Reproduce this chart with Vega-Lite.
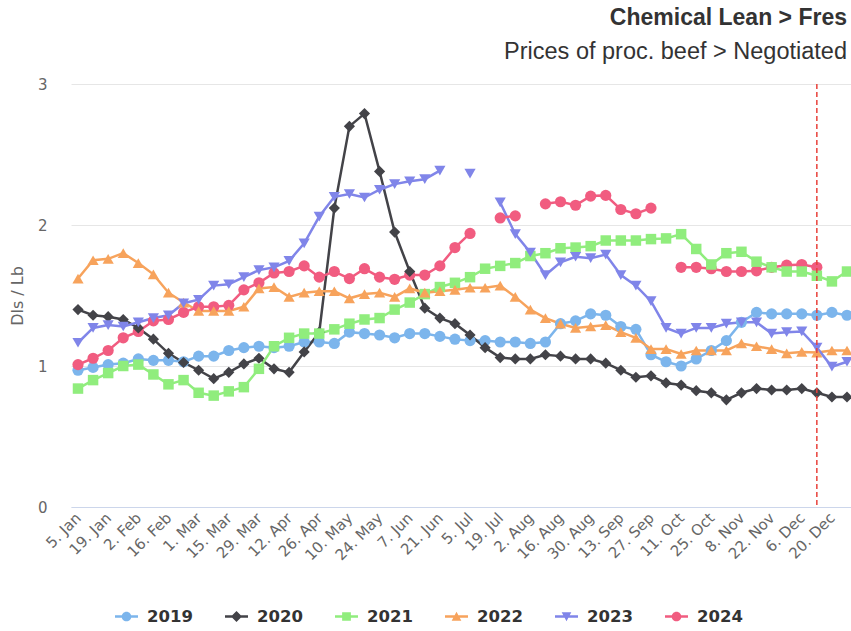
{
  "$schema": "https://vega.github.io/schema/vega-lite/v6.json",
  "width": 780,
  "height": 423,
  "autosize": {"type": "none"},
  "padding": {"left": 71, "top": 84, "right": 0, "bottom": 124},
  "background": "white",
  "config": {"view": {"stroke": null}},
  "title": {
    "text": "Chemical Lean > Fres",
    "subtitle": "Prices of proc. beef > Negotiated",
    "anchor": "end",
    "frame": "group",
    "font": "Liberation Sans",
    "fontSize": 23,
    "fontWeight": "bold",
    "color": "#333333",
    "subtitleFont": "Liberation Sans",
    "subtitleFontSize": 23.5,
    "subtitleColor": "#333333",
    "subtitlePadding": 10,
    "offset": 14,
    "dx": -4
  },
  "data": {
    "values": [
      {"date": "2024-01-05", "2019": 0.97, "2020": 1.40, "2021": 0.84, "2022": 1.62, "2023": 1.165, "2024": 1.01},
      {"date": "2024-01-12", "2019": 0.99, "2020": 1.36, "2021": 0.90, "2022": 1.75, "2023": 1.27, "2024": 1.055},
      {"date": "2024-01-19", "2019": 1.01, "2020": 1.35, "2021": 0.95, "2022": 1.76, "2023": 1.29, "2024": 1.11},
      {"date": "2024-01-26", "2019": 1.02, "2020": 1.33, "2021": 1.00, "2022": 1.80, "2023": 1.28, "2024": 1.20},
      {"date": "2024-02-02", "2019": 1.05, "2020": 1.27, "2021": 1.01, "2022": 1.73, "2023": 1.31, "2024": 1.245},
      {"date": "2024-02-09", "2019": 1.04, "2020": 1.19, "2021": 0.94, "2022": 1.65, "2023": 1.34, "2024": 1.32},
      {"date": "2024-02-16", "2019": 1.04, "2020": 1.09, "2021": 0.87, "2022": 1.52, "2023": 1.36, "2024": 1.33},
      {"date": "2024-02-23", "2019": 1.03, "2020": 1.025, "2021": 0.90, "2022": 1.45, "2023": 1.445, "2024": 1.38},
      {"date": "2024-03-01", "2019": 1.07, "2020": 0.97, "2021": 0.81, "2022": 1.39, "2023": 1.47, "2024": 1.42},
      {"date": "2024-03-08", "2019": 1.07, "2020": 0.91, "2021": 0.79, "2022": 1.39, "2023": 1.57, "2024": 1.42},
      {"date": "2024-03-15", "2019": 1.11, "2020": 0.955, "2021": 0.82, "2022": 1.39, "2023": 1.58, "2024": 1.43},
      {"date": "2024-03-22", "2019": 1.13, "2020": 1.015, "2021": 0.85, "2022": 1.42, "2023": 1.63, "2024": 1.54},
      {"date": "2024-03-29", "2019": 1.14, "2020": 1.055, "2021": 0.98, "2022": 1.55, "2023": 1.68, "2024": 1.59},
      {"date": "2024-04-05", "2019": 1.13, "2020": 0.98, "2021": 1.14, "2022": 1.56, "2023": 1.70, "2024": 1.66},
      {"date": "2024-04-12", "2019": 1.14, "2020": 0.955, "2021": 1.20, "2022": 1.49, "2023": 1.745, "2024": 1.67},
      {"date": "2024-04-19", "2019": 1.17, "2020": 1.10, "2021": 1.23, "2022": 1.52, "2023": 1.87, "2024": 1.71},
      {"date": "2024-04-26", "2019": 1.17, "2020": 1.24, "2021": 1.23, "2022": 1.53, "2023": 2.06, "2024": 1.63},
      {"date": "2024-05-03", "2019": 1.16, "2020": 2.12, "2021": 1.26, "2022": 1.53, "2023": 2.20, "2024": 1.67},
      {"date": "2024-05-10", "2019": 1.24, "2020": 2.70, "2021": 1.30, "2022": 1.48, "2023": 2.22, "2024": 1.62},
      {"date": "2024-05-17", "2019": 1.23, "2020": 2.79, "2021": 1.33, "2022": 1.51, "2023": 2.195, "2024": 1.69},
      {"date": "2024-05-24", "2019": 1.22, "2020": 2.38, "2021": 1.34, "2022": 1.52, "2023": 2.25, "2024": 1.63},
      {"date": "2024-05-31", "2019": 1.20, "2020": 1.95, "2021": 1.40, "2022": 1.49, "2023": 2.29, "2024": 1.615},
      {"date": "2024-06-07", "2019": 1.23, "2020": 1.67, "2021": 1.45, "2022": 1.55, "2023": 2.31, "2024": 1.645},
      {"date": "2024-06-14", "2019": 1.23, "2020": 1.41, "2021": 1.51, "2022": 1.52, "2023": 2.325, "2024": 1.645},
      {"date": "2024-06-21", "2019": 1.21, "2020": 1.34, "2021": 1.56, "2022": 1.53, "2023": 2.385, "2024": 1.71},
      {"date": "2024-06-28", "2019": 1.19, "2020": 1.30, "2021": 1.59, "2022": 1.54, "2023": null, "2024": 1.84},
      {"date": "2024-07-05", "2019": 1.18, "2020": 1.22, "2021": 1.63, "2022": 1.555, "2023": 2.365, "2024": 1.94},
      {"date": "2024-07-12", "2019": 1.18, "2020": 1.13, "2021": 1.69, "2022": 1.555, "2023": null, "2024": null},
      {"date": "2024-07-19", "2019": 1.17, "2020": 1.06, "2021": 1.71, "2022": 1.57, "2023": 2.16, "2024": 2.05},
      {"date": "2024-07-26", "2019": 1.17, "2020": 1.05, "2021": 1.73, "2022": 1.49, "2023": 1.935, "2024": 2.065},
      {"date": "2024-08-02", "2019": 1.16, "2020": 1.05, "2021": 1.78, "2022": 1.40, "2023": 1.805, "2024": null},
      {"date": "2024-08-09", "2019": 1.17, "2020": 1.08, "2021": 1.80, "2022": 1.34, "2023": 1.645, "2024": 2.15},
      {"date": "2024-08-16", "2019": 1.30, "2020": 1.07, "2021": 1.835, "2022": 1.30, "2023": 1.735, "2024": 2.165},
      {"date": "2024-08-23", "2019": 1.32, "2020": 1.05, "2021": 1.84, "2022": 1.27, "2023": 1.775, "2024": 2.14},
      {"date": "2024-08-30", "2019": 1.37, "2020": 1.05, "2021": 1.85, "2022": 1.28, "2023": 1.765, "2024": 2.205},
      {"date": "2024-09-06", "2019": 1.36, "2020": 1.02, "2021": 1.89, "2022": 1.29, "2023": 1.79, "2024": 2.21},
      {"date": "2024-09-13", "2019": 1.28, "2020": 0.97, "2021": 1.89, "2022": 1.24, "2023": 1.645, "2024": 2.11},
      {"date": "2024-09-20", "2019": 1.26, "2020": 0.92, "2021": 1.89, "2022": 1.20, "2023": 1.57, "2024": 2.08},
      {"date": "2024-09-27", "2019": 1.08, "2020": 0.93, "2021": 1.90, "2022": 1.12, "2023": 1.46, "2024": 2.12},
      {"date": "2024-10-04", "2019": 1.03, "2020": 0.88, "2021": 1.905, "2022": 1.12, "2023": 1.27, "2024": null},
      {"date": "2024-10-11", "2019": 1.00, "2020": 0.865, "2021": 1.935, "2022": 1.085, "2023": 1.23, "2024": 1.70},
      {"date": "2024-10-18", "2019": 1.05, "2020": 0.825, "2021": 1.83, "2022": 1.11, "2023": 1.27, "2024": 1.70},
      {"date": "2024-10-25", "2019": 1.11, "2020": 0.81, "2021": 1.72, "2022": 1.11, "2023": 1.27, "2024": 1.69},
      {"date": "2024-11-01", "2019": 1.18, "2020": 0.76, "2021": 1.80, "2022": 1.11, "2023": 1.30, "2024": 1.67},
      {"date": "2024-11-08", "2019": 1.31, "2020": 0.81, "2021": 1.81, "2022": 1.16, "2023": 1.31, "2024": 1.67},
      {"date": "2024-11-15", "2019": 1.38, "2020": 0.84, "2021": 1.74, "2022": 1.14, "2023": 1.31, "2024": 1.675},
      {"date": "2024-11-22", "2019": 1.37, "2020": 0.83, "2021": 1.70, "2022": 1.12, "2023": 1.23, "2024": 1.70},
      {"date": "2024-11-29", "2019": 1.37, "2020": 0.83, "2021": 1.67, "2022": 1.09, "2023": 1.24, "2024": 1.715},
      {"date": "2024-12-06", "2019": 1.37, "2020": 0.84, "2021": 1.67, "2022": 1.10, "2023": 1.245, "2024": 1.72},
      {"date": "2024-12-13", "2019": 1.36, "2020": 0.81, "2021": 1.64, "2022": 1.095, "2023": 1.13, "2024": 1.70},
      {"date": "2024-12-20", "2019": 1.38, "2020": 0.78, "2021": 1.60, "2022": 1.11, "2023": 0.995, "2024": null},
      {"date": "2024-12-27", "2019": 1.36, "2020": 0.78, "2021": 1.67, "2022": 1.11, "2023": 1.03, "2024": null}
    ]
  },
  "encoding": {
    "x": {
      "field": "date",
      "type": "temporal",
      "scale": {
        "type": "utc",
        "domain": [
          {"year": 2024, "month": 1, "date": 1, "hours": 18, "utc": true},
          {"year": 2024, "month": 12, "date": 28, "hours": 20, "minutes": 34, "utc": true}
        ]
      },
      "axis": {
        "title": null,
        "values": [
          {"year": 2024, "month": 1, "date": 5, "utc": true},
          {"year": 2024, "month": 1, "date": 19, "utc": true},
          {"year": 2024, "month": 2, "date": 2, "utc": true},
          {"year": 2024, "month": 2, "date": 16, "utc": true},
          {"year": 2024, "month": 3, "date": 1, "utc": true},
          {"year": 2024, "month": 3, "date": 15, "utc": true},
          {"year": 2024, "month": 3, "date": 29, "utc": true},
          {"year": 2024, "month": 4, "date": 12, "utc": true},
          {"year": 2024, "month": 4, "date": 26, "utc": true},
          {"year": 2024, "month": 5, "date": 10, "utc": true},
          {"year": 2024, "month": 5, "date": 24, "utc": true},
          {"year": 2024, "month": 6, "date": 7, "utc": true},
          {"year": 2024, "month": 6, "date": 21, "utc": true},
          {"year": 2024, "month": 7, "date": 5, "utc": true},
          {"year": 2024, "month": 7, "date": 19, "utc": true},
          {"year": 2024, "month": 8, "date": 2, "utc": true},
          {"year": 2024, "month": 8, "date": 16, "utc": true},
          {"year": 2024, "month": 8, "date": 30, "utc": true},
          {"year": 2024, "month": 9, "date": 13, "utc": true},
          {"year": 2024, "month": 9, "date": 27, "utc": true},
          {"year": 2024, "month": 10, "date": 11, "utc": true},
          {"year": 2024, "month": 10, "date": 25, "utc": true},
          {"year": 2024, "month": 11, "date": 8, "utc": true},
          {"year": 2024, "month": 11, "date": 22, "utc": true},
          {"year": 2024, "month": 12, "date": 6, "utc": true},
          {"year": 2024, "month": 12, "date": 20, "utc": true}
        ],
        "format": "%-d. %b",
        "labelAngle": -45,
        "labelAlign": "right",
        "labelBaseline": "middle",
        "labelPadding": 8,
        "labelOverlap": false,
        "labelFlush": false,
        "labelBound": false,
        "labelFont": "DejaVu Sans",
        "labelFontSize": 15,
        "labelColor": "#666666",
        "ticks": false,
        "grid": false,
        "domainColor": "#ccd6eb",
        "domainWidth": 1
      }
    },
    "y": {
      "field": "price",
      "type": "quantitative",
      "scale": {"domain": [0, 3], "nice": false, "zero": true},
      "axis": {
        "title": "Dls / Lb",
        "values": [0, 1, 2, 3],
        "titleFont": "DejaVu Sans",
        "titleFontSize": 16,
        "titleFontWeight": "normal",
        "titleColor": "#666666",
        "titlePadding": 12,
        "labelFont": "DejaVu Sans",
        "labelFontSize": 15,
        "labelColor": "#666666",
        "labelPadding": 24,
        "ticks": false,
        "domain": false,
        "grid": true,
        "gridColor": "#e6e6e6",
        "gridWidth": 1
      }
    },
    "color": {
      "field": "year",
      "type": "nominal",
      "scale": {
        "domain": ["2019", "2020", "2021", "2022", "2023", "2024"],
        "range": ["#7cb5ec", "#434348", "#90ed7d", "#f7a35c", "#8085e9", "#f15c80"]
      },
      "legend": {
        "title": null,
        "orient": "none",
        "legendX": 44,
        "legendY": 521,
        "direction": "horizontal",
        "columnPadding": 32,
        "labelFont": "DejaVu Sans",
        "labelFontSize": 16.5,
        "labelFontWeight": "bold",
        "labelColor": "#333333",
        "labelOffset": 9,
        "symbolSize": 529,
        "symbolStrokeWidth": 0,
        "encode": {
          "symbols": {
            "update": {
              "shape": {"signal": "datum.value === '2020' ? 'M-1,-0.1H1V0.1H-1Z M0,-0.48L0.48,0L0,0.48L-0.48,0Z' : datum.value === '2021' ? 'M-1,-0.1H1V0.1H-1Z M-0.38,-0.38H0.38V0.38H-0.38Z' : datum.value === '2022' ? 'M-1,-0.1H1V0.1H-1Z M0,-0.42L0.42,0.38L-0.42,0.38Z' : datum.value === '2023' ? 'M-1,-0.1H1V0.1H-1Z M-0.42,-0.38L0.42,-0.38L0,0.42Z' : 'M-1,-0.1H1V0.1H-1Z M0.42,0A0.42,0.42,0,1,1,-0.42,0A0.42,0.42,0,1,1,0.42,0Z'"},
              "opacity": {"value": 1},
              "fillOpacity": {"value": 1}
            }
          }
        }
      }
    }
  },
  "layer": [
    {
      "transform": [{"fold": ["2019", "2020", "2021", "2022", "2023", "2024"], "as": ["year", "price"]}],
      "mark": {"type": "line", "strokeWidth": 2.5, "invalid": "break-paths-show-domains"}
    },
    {
      "transform": [
        {"fold": ["2019", "2020", "2021", "2022", "2023", "2024"], "as": ["year", "price"]},
        {"filter": {"field": "year", "oneOf": ["2019", "2024"]}}
      ],
      "mark": {"type": "point", "shape": "circle", "filled": true, "size": 125, "opacity": 1}
    },
    {
      "transform": [
        {"fold": ["2019", "2020", "2021", "2022", "2023", "2024"], "as": ["year", "price"]},
        {"filter": {"field": "year", "equal": "2020"}}
      ],
      "mark": {"type": "point", "shape": "diamond", "filled": true, "size": 125, "opacity": 1}
    },
    {
      "transform": [
        {"fold": ["2019", "2020", "2021", "2022", "2023", "2024"], "as": ["year", "price"]},
        {"filter": {"field": "year", "equal": "2021"}}
      ],
      "mark": {"type": "point", "shape": "square", "filled": true, "size": 110, "opacity": 1}
    },
    {
      "transform": [
        {"fold": ["2019", "2020", "2021", "2022", "2023", "2024"], "as": ["year", "price"]},
        {"filter": {"field": "year", "equal": "2022"}}
      ],
      "mark": {"type": "point", "shape": "triangle-up", "filled": true, "size": 125, "opacity": 1}
    },
    {
      "transform": [
        {"fold": ["2019", "2020", "2021", "2022", "2023", "2024"], "as": ["year", "price"]},
        {"filter": {"field": "year", "equal": "2023"}}
      ],
      "mark": {"type": "point", "shape": "triangle-down", "filled": true, "size": 125, "opacity": 1}
    },
    {
      "data": {"values": [{"date": "2024-12-13"}]},
      "mark": {"type": "rule", "color": "#e8413a", "strokeDash": [5, 3], "strokeWidth": 1.5},
      "encoding": {
        "x": {"field": "date", "type": "temporal"},
        "y": null,
        "color": null
      }
    }
  ]
}
